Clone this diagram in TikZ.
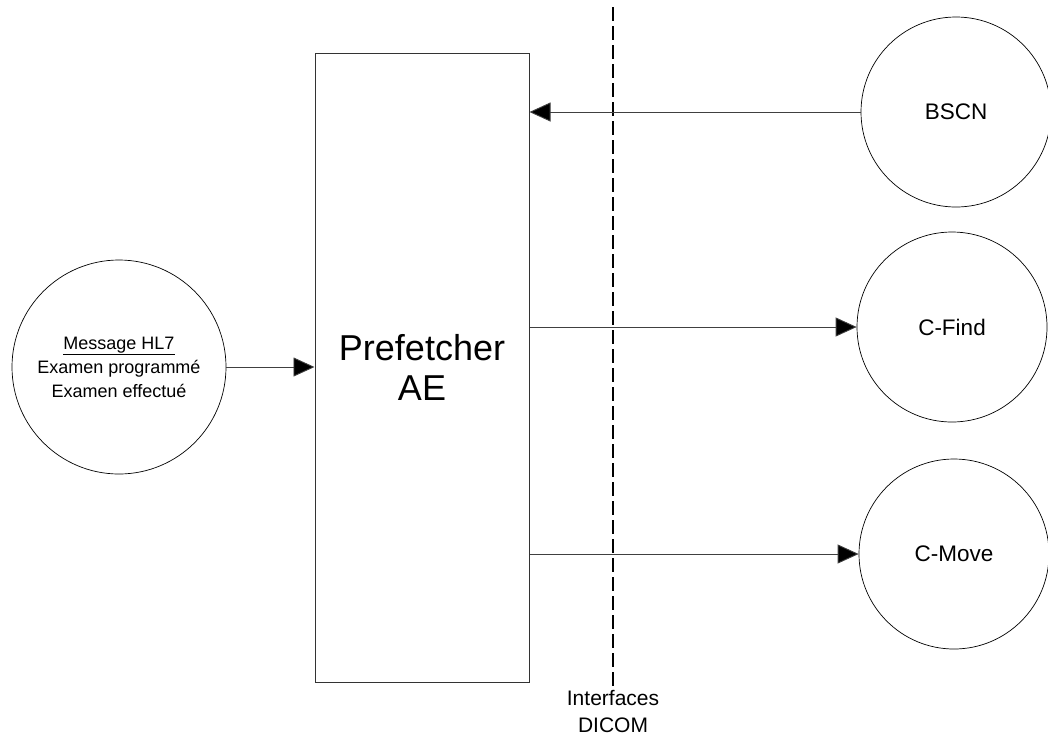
\documentclass[tikz,border=0pt]{standalone}
\usepackage{fontspec}
\setmainfont{Liberation Sans}
\usetikzlibrary{arrows.meta}
\begin{document}
\begin{tikzpicture}[x=1pt,y=-1pt,
  circ/.style={circle,draw=black,line width=0.7pt,inner sep=0pt,minimum size=190pt,
    font=\fontsize{22.5}{26}\selectfont},
  flow/.style={draw=black!75,line width=0.9pt,-{Triangle[length=21pt,width=19pt,fill=black]}},
  divider/.style={line width=1.4pt,dash pattern=on 14pt off 5pt}]
\useasboundingbox (0,0) rectangle (1048,740);
\node[draw=black!80,line width=1pt,minimum width=214pt,minimum height=629pt,inner sep=0pt,
  align=center,font=\fontsize{36}{40}\selectfont] (ae) at (422,367.5) {Prefetcher\\AE};
\node[circ,minimum size=214pt,align=center,font=\fontsize{18}{24}\selectfont] (hl7) at (119,367)
  {\underline{Message HL7}\\Examen programmé\\Examen effectué};
\node[circ] (bscn) at (956,112) {BSCN};
\node[circ] (cfind) at (952,327) {C-Find};
\node[circ] (cmove) at (954,554) {C-Move};
\coordinate (dtop) at (613,7);
\coordinate (dbot) at (613,688);
\draw[divider] (dtop) -- (dbot);
\node[align=center,font=\fontsize{21}{27}\selectfont,anchor=north] (dicom) at (613,687) {Interfaces\\DICOM};
\draw[flow] (hl7.east) -- (hl7.east -| ae.west);
\draw[flow] (bscn.west) -- (bscn.west -| ae.east);
\draw[flow] (cfind.west -| ae.east) -- (cfind.west);
\draw[flow] (cmove.west -| ae.east) -- (cmove.west);
\end{tikzpicture}
\end{document}
